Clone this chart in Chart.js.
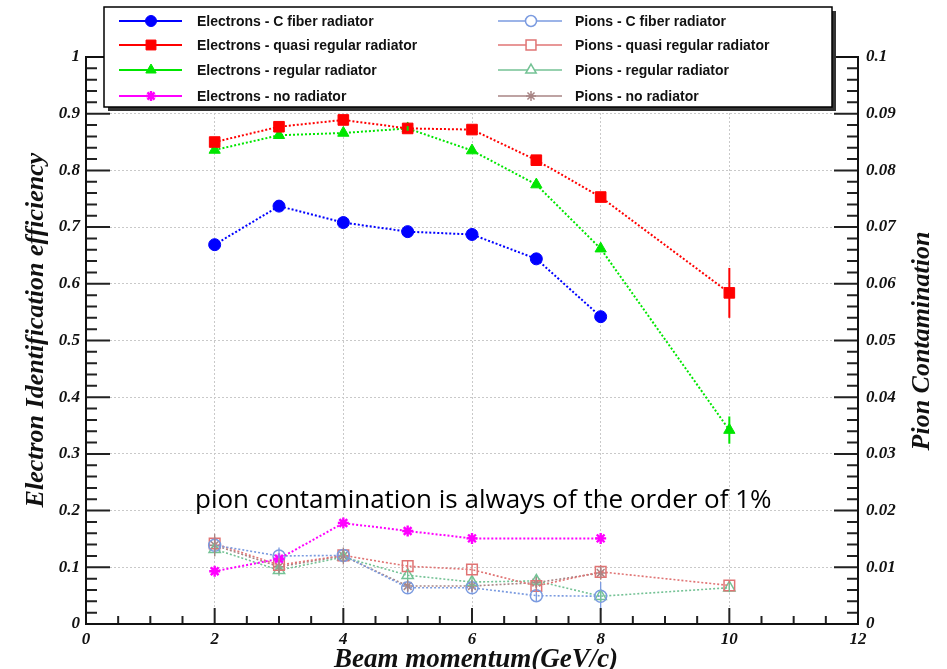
<!DOCTYPE html>
<html>
<head>
<meta charset="utf-8">
<title>Electron identification efficiency</title>
<script src="https://cdn.jsdelivr.net/npm/chart.js@4.4.1/dist/chart.umd.min.js"></script>
<style>
  html, body { margin: 0; padding: 0; background: #fff; }
  #wrap { width: 947px; height: 669px; }
</style>
</head>
<body>
<div id="wrap"><canvas id="chart" width="947" height="669"></canvas></div>
<script>
// beam momentum points (GeV/c)
const momentumAll   = [2, 3, 4, 5, 6, 7, 8, 10];
const momentumTo8   = [2, 3, 4, 5, 6, 7, 8];
const momentumNoRad = [2, 3, 4, 5, 6, 8];

// electron identification efficiency (left axis)
const effCFiber     = [0.669, 0.737, 0.708, 0.692, 0.687, 0.644, 0.542];
const effQuasi      = [0.850, 0.877, 0.889, 0.874, 0.872, 0.818, 0.753, 0.584];
const effRegular    = [0.836, 0.862, 0.866, 0.874, 0.835, 0.775, 0.662, 0.342];
const effNoRad      = [0.093, 0.115, 0.178, 0.164, 0.151, 0.151];
const effCFiberErr  = [0.004, 0.004, 0.004, 0.004, 0.004, 0.004, 0.005];
const effQuasiErr   = [0.004, 0.004, 0.004, 0.004, 0.004, 0.005, 0.006, 0.044];
const effRegularErr = [0.004, 0.004, 0.004, 0.004, 0.004, 0.005, 0.006, 0.024];
const effNoRadErr   = [0.003, 0.003, 0.003, 0.003, 0.003, 0.003];

// pion contamination (right axis)
const pionCFiber     = [0.0139, 0.0120, 0.0121, 0.0064, 0.0064, 0.0050, 0.0049];
const pionQuasi      = [0.0142, 0.0104, 0.0121, 0.0102, 0.0096, 0.0067, 0.0092, 0.0068];
const pionRegular    = [0.0132, 0.0095, 0.0118, 0.0086, 0.0074, 0.0076, 0.0049, 0.0064];
const pionNoRad      = [0.0139, 0.0101, 0.0120, 0.0067, 0.0067, 0.0073, 0.0090];
const pionCFiberErr  = [0.0012, 0.0015, 0.0010, 0.0010, 0.0010, 0.0010, 0.0025];
const pionQuasiErr   = [0.0012, 0.0012, 0.0010, 0.0010, 0.0010, 0.0010, 0.0012, 0.0008];
const pionRegularErr = [0.0012, 0.0010, 0.0010, 0.0010, 0.0010, 0.0010, 0.0010, 0.0008];
const pionNoRadErr   = [0.0020, 0.0012, 0.0015, 0.0010, 0.0010, 0.0010, 0.0012];

const seriesLabels = [
  'Electrons - C fiber radiator',
  'Electrons - quasi regular radiator',
  'Electrons - regular radiator',
  'Electrons - no radiator',
  'Pions - C fiber radiator',
  'Pions - quasi regular radiator',
  'Pions - regular radiator',
  'Pions - no radiator'
];

const xTickLabels  = ['0', '2', '4', '6', '8', '10', '12'];
const yTickLabels  = ['0', '0.1', '0.2', '0.3', '0.4', '0.5', '0.6', '0.7', '0.8', '0.9', '1'];
const y2TickLabels = ['0', '0.01', '0.02', '0.03', '0.04', '0.05', '0.06', '0.07', '0.08', '0.09', '0.1'];

const xTitle  = 'Beam momentum(GeV/c)';
const yTitle  = 'Electron Identification efficiency';
const y2Title = 'Pion Contamination';
const note    = 'pion contamination is always of the order of 1%';

const SERIF = '"Liberation Serif", "DejaVu Serif", serif';
const SANS  = '"Liberation Sans", Arial, sans-serif';

function pts(xs, ys) {
  return xs.map((x, i) => ({ x: x, y: ys[i] }));
}

// marker size per style (rect needs a bigger radius to look the same size)
const markerRadius = { circle: 6, rect: 7.5, triangle: 6.5, star: 5.5 };

// one dotted series with markers
function series(idx, xs, ys, errs, color, style, axis, hollow) {
  const electron = axis === 'y';
  return {
    label: seriesLabels[idx],
    data: pts(xs, ys),
    errorBars: errs,
    yAxisID: axis,
    borderColor: color,
    backgroundColor: hollow ? 'rgba(0,0,0,0)' : color,
    borderWidth: electron ? 2 : 1.6,
    borderDash: [2, 2],
    pointStyle: style,
    pointRadius: markerRadius[style],
    pointBorderWidth: style === 'star' ? (electron ? 2.4 : 1.5) : (hollow ? 1.5 : 1),
    pointBorderColor: color,
    pointBackgroundColor: hollow ? 'rgba(0,0,0,0)' : color,
    hollow: hollow,
    showLine: true,
    tension: 0,
    fill: false
  };
}

// error bars, frame, inner ticks, legend box, titles and the note
const decor = {
  id: 'decor',
  afterDatasetsDraw(chart) {
    const ctx = chart.ctx;
    chart.data.datasets.forEach((ds, i) => {
      const meta = chart.getDatasetMeta(i);
      const ys = chart.scales[ds.yAxisID];
      ctx.save();
      ctx.strokeStyle = ds.borderColor;
      ctx.lineWidth = ds.yAxisID === 'y' ? 2 : 1.3;
      meta.data.forEach((p, j) => {
        const v = ds.data[j].y;
        const e = ds.errorBars[j];
        ctx.beginPath();
        ctx.moveTo(p.x, ys.getPixelForValue(v + e));
        ctx.lineTo(p.x, ys.getPixelForValue(v - e));
        ctx.stroke();
      });
      ctx.restore();
    });
  },
  afterDraw(chart) {
    const ctx = chart.ctx;
    const a = chart.chartArea;
    const sx = chart.scales.x, sy = chart.scales.y, sy2 = chart.scales.y2;
    ctx.save();

    // ticks pointing into the frame
    ctx.strokeStyle = '#222';
    ctx.lineWidth = 2;
    ctx.beginPath();
    for (let k = 0; k <= 50; k++) {
      const y = sy.getPixelForValue(k * 0.02);
      const len = k % 5 === 0 ? 24 : 11;
      ctx.moveTo(a.left, y); ctx.lineTo(a.left + len, y);
      const y2 = sy2.getPixelForValue(k * 0.002);
      ctx.moveTo(a.right, y2); ctx.lineTo(a.right - len, y2);
    }
    for (let k = 0; k <= 24; k++) {
      const x = sx.getPixelForValue(k * 0.5);
      const len = k % 4 === 0 ? 16 : 8;
      ctx.moveTo(x, a.bottom); ctx.lineTo(x, a.bottom - len);
    }
    ctx.stroke();

    // frame
    ctx.strokeStyle = '#111';
    ctx.lineWidth = 2;
    ctx.strokeRect(a.left, a.top, a.right - a.left, a.bottom - a.top);

    // note
    ctx.fillStyle = '#000';
    ctx.font = '26px "Open Sans", "Noto Sans", sans-serif';
    ctx.textAlign = 'left';
    ctx.textBaseline = 'alphabetic';
    ctx.fillText(note, 195, 508, 653);

    // axis titles
    ctx.fillStyle = '#111';
    ctx.textAlign = 'center';
    ctx.textBaseline = 'middle';
    ctx.font = 'italic bold 27px ' + SERIF;
    ctx.fillText(xTitle, (a.left + a.right) / 2 + 4, 660);
    ctx.font = 'italic bold 26px ' + SERIF;
    ctx.save();
    ctx.translate(36, 330);
    ctx.rotate(-Math.PI / 2);
    ctx.fillText(yTitle, 0, 0);
    ctx.restore();
    ctx.save();
    ctx.translate(922, 341);
    ctx.rotate(-Math.PI / 2);
    ctx.fillText(y2Title, 0, 0);
    ctx.restore();

    // legend box with shadow
    const L = { left: 104, top: 7, right: 832, bottom: 107 };
    ctx.fillStyle = '#333';
    ctx.fillRect(L.left + 4, L.top + 4, L.right - L.left, L.bottom - L.top);
    ctx.fillStyle = '#fff';
    ctx.fillRect(L.left, L.top, L.right - L.left, L.bottom - L.top);
    ctx.strokeStyle = '#000';
    ctx.lineWidth = 1.5;
    ctx.strokeRect(L.left, L.top, L.right - L.left, L.bottom - L.top);

    const rows = [21, 45, 70, 96];
    const cols = [
      { x0: 119, x1: 182, mx: 151, tx: 197 },
      { x0: 498, x1: 562, mx: 531, tx: 575 }
    ];
    chart.data.datasets.forEach((ds, i) => {
      const c = cols[i < 4 ? 0 : 1];
      const y = rows[i % 4];
      ctx.strokeStyle = ds.borderColor;
      ctx.lineWidth = i < 4 ? 2 : 1.6;
      ctx.setLineDash([]);
      ctx.beginPath();
      ctx.moveTo(c.x0, y); ctx.lineTo(c.x1, y);
      ctx.stroke();
      ctx.fillStyle = ds.hollow ? '#fff' : ds.borderColor;
      ctx.lineWidth = ds.pointBorderWidth;
      Chart.helpers.drawPoint(ctx, {
        pointStyle: ds.pointStyle,
        radius: ds.pointRadius - 0.5,
        rotation: 0,
        borderWidth: ds.pointBorderWidth
      }, c.mx, y);
      ctx.fillStyle = '#111';
      ctx.font = 'bold 14px ' + SANS;
      ctx.textAlign = 'left';
      ctx.textBaseline = 'middle';
      ctx.fillText(ds.label, c.tx, y + 1);
    });

    ctx.restore();
  }
};

const tickFont = { family: SERIF, size: 17, style: 'italic', weight: 'bold' };

new Chart(document.getElementById('chart'), {
  type: 'line',
  data: {
    datasets: [
      series(0, momentumTo8, effCFiber, effCFiberErr, '#0000ff', 'circle', 'y', false),
      series(1, momentumAll, effQuasi, effQuasiErr, '#ff0000', 'rect', 'y', false),
      series(2, momentumAll, effRegular, effRegularErr, '#00e600', 'triangle', 'y', false),
      series(3, momentumNoRad, effNoRad, effNoRadErr, '#ff00ff', 'star', 'y', false),
      series(4, momentumTo8, pionCFiber, pionCFiberErr, '#7b9be0', 'circle', 'y2', true),
      series(5, momentumAll, pionQuasi, pionQuasiErr, '#e07474', 'rect', 'y2', true),
      series(6, momentumAll, pionRegular, pionRegularErr, '#74c295', 'triangle', 'y2', true),
      series(7, momentumTo8, pionNoRad, pionNoRadErr, '#a88585', 'star', 'y2', true)
    ]
  },
  options: {
    responsive: false,
    animation: false,
    devicePixelRatio: 1,
    layout: { padding: { top: 57, left: 0, right: 0, bottom: 0 } },
    plugins: {
      legend: { display: false },
      tooltip: { enabled: false }
    },
    scales: {
      x: {
        type: 'linear',
        min: 0,
        max: 12,
        ticks: {
          stepSize: 2,
          autoSkip: false,
          maxRotation: 0,
          padding: 5,
          color: '#111',
          font: tickFont,
          callback: (v, i) => xTickLabels[i]
        },
        grid: { color: '#c9c9c9', lineWidth: 1, drawTicks: false },
        border: { display: false, dash: [2, 2] },
        afterFit: (s) => { s.height = 45; }
      },
      y: {
        position: 'left',
        min: 0,
        max: 1,
        ticks: {
          stepSize: 0.1,
          autoSkip: false,
          padding: 6,
          color: '#111',
          font: tickFont,
          callback: (v, i) => yTickLabels[i]
        },
        grid: { color: '#c9c9c9', lineWidth: 1, drawTicks: false },
        border: { display: false, dash: [2, 2] },
        afterFit: (s) => { s.width = 86; }
      },
      y2: {
        position: 'right',
        min: 0,
        max: 0.1,
        ticks: {
          stepSize: 0.01,
          autoSkip: false,
          padding: 8,
          color: '#111',
          font: tickFont,
          callback: (v, i) => y2TickLabels[i]
        },
        grid: { drawOnChartArea: false, drawTicks: false },
        border: { display: false },
        afterFit: (s) => { s.width = 89; }
      }
    }
  },
  plugins: [decor]
});
</script>
</body>
</html>
